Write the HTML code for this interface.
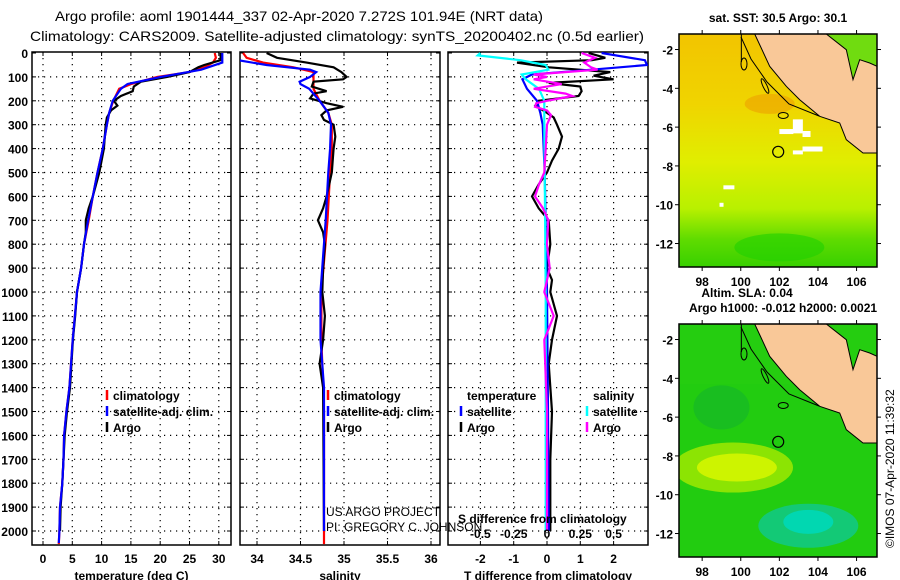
<!DOCTYPE html>
<html><head><meta charset="utf-8"><style>
html,body{margin:0;padding:0;background:#fff;}
svg{display:block;font-family:"Liberation Sans",Arial,sans-serif;}
.b{font-weight:bold;font-size:12px;}
</style></head><body>
<svg id="chart" width="900" height="580" viewBox="0 0 900 580" xmlns="http://www.w3.org/2000/svg">
<rect width="900" height="580" fill="#fff"/>
<text x="55" y="21" font-size="14" textLength="488" lengthAdjust="spacingAndGlyphs">Argo profile: aoml 1901444_337 02-Apr-2020 7.272S 101.94E (NRT data)</text>
<text x="30" y="41" font-size="14" textLength="614" lengthAdjust="spacingAndGlyphs">Climatology: CARS2009. Satellite-adjusted climatology: synTS_20200402.nc (0.5d earlier)</text>
<g id="plots"></g>
<g id="maps"></g>
</svg>
<script>
// ---------- data ----------
const depthTicks=[0,100,200,300,400,500,600,700,800,900,1000,1100,1200,1300,1400,1500,1600,1700,1800,1900,2000];
const tempTicks=[0,5,10,15,20,25,30];
const salTicks=[34,34.5,35,35.5,36];
const tdiffTicks=[-2,-1,0,1,2];
const sdiffTicks=[-0.5,-0.25,0,0.25,0.5];

const tClimDepth=[0,20,40,60,80,100,130,150,200,250,300,400,500,600,700,800,900,1000,1100,1200,1400,1500,1600,1700,1800,1900,2000,2055];
const tClim=[29.3,29.5,29.0,27.5,25.0,19.5,15.0,13.0,12.0,11.3,10.9,10.2,9.3,8.5,7.8,7.0,6.5,5.8,5.45,5.06,4.5,4.0,3.6,3.5,3.3,2.9,2.8,2.7];
const tSatDepth=[0,20,40,70,100,130,150,200,250,300,400,500,600,700,800,900,1000,1100,1200,1400,1500,1600,1700,1800,1900,2000,2050];
const tSat=[30.6,30.6,30.6,27.0,20.1,14.4,13.3,11.9,11.3,10.9,10.2,9.3,8.5,7.7,7.0,6.5,5.8,5.45,5.06,4.5,4.0,3.6,3.5,3.3,2.9,2.8,2.7];
const tArgoDepth=[0,30,50,60,80,100,120,140,160,180,200,220,240,270,300,400,500,600,650,700,750,800,900,1000,1100,1200,1400,1500,1600,1700,1800,1900,2000];
const tArgo=[30.3,30.3,27.5,26.5,25.0,21.2,16.7,15.5,15.3,13.3,12.1,12.7,11.6,10.9,10.7,10.4,9.6,8.5,7.8,7.3,7.3,7.0,6.5,5.8,5.5,5.1,4.6,4.1,3.7,3.5,3.3,3.0,2.9];

const sClimDepth=[0,20,40,60,80,100,150,200,250,300,400,500,700,1000,1200,1500,2000,2055];
const sClim=[33.84,33.88,34.07,34.42,34.65,34.65,34.65,34.72,34.82,34.86,34.86,34.84,34.81,34.74,34.74,34.77,34.77,34.77];
const sSatDepth=[0,30,50,70,80,100,120,130,150,200,250,300,400,500,700,1000,1200,1400,2000];
const sSat=[33.78,33.78,34.11,34.61,34.68,34.61,34.49,34.5,34.6,34.72,34.82,34.85,34.84,34.82,34.79,34.73,34.73,34.77,34.77];
const sArgoDepth=[0,20,40,60,80,100,110,120,140,160,170,190,210,225,240,260,280,300,350,400,500,600,650,700,750,800,900,1000,1100,1200,1300,1400,2000];
const sArgo=[34.11,34.23,34.57,34.88,34.97,35.03,34.99,34.65,34.63,34.80,34.65,34.61,34.80,34.99,34.80,34.74,34.77,34.88,34.90,34.88,34.86,34.80,34.76,34.70,34.76,34.78,34.76,34.75,34.78,34.76,34.72,34.76,34.77];

const dtSatDepth=[0,30,50,70,90,110,150,200,250,300,500,1000,1500,2000];
const dtSat=[1.64,2.94,3.0,1.34,-0.45,-0.74,-0.6,-0.3,-0.2,-0.13,-0.07,0.0,0.03,0.05];
const dtArgoDepth=[0,20,30,40,60,80,95,110,125,140,160,180,200,220,250,270,300,350,400,450,500,550,600,650,700,800,900,950,1000,1100,1200,1300,1500,1700,2000];
const dtArgo=[1.25,1.75,1.35,-0.9,0.06,1.9,1.4,2.0,0.05,1.0,1.04,0.95,-0.25,-0.35,0.0,0.2,0.3,0.45,0.35,0.15,0.0,-0.25,-0.45,-0.25,0.05,0.1,0.0,0.15,0.1,0.3,0.15,0.05,0.15,0.1,0.1];
const dsSatDepth=[0,10,30,50,70,90,110,150,200,300,1000,2000];
const dsSat=[-0.5,-0.52,-0.2,-0.01,0.01,-0.19,-0.16,-0.06,-0.02,-0.02,-0.01,-0.01];
const dsArgoDepth=[0,20,40,60,70,90,100,110,130,150,170,180,200,210,225,240,260,300,400,500,550,600,650,700,800,900,1000,1100,1200,1500,2000];
const dsArgo=[0.26,0.36,0.28,0.33,0.38,-0.1,0.0,-0.1,0.11,-0.1,0.14,0.19,0.0,-0.08,-0.09,0.0,0.03,0.0,-0.01,-0.02,-0.06,-0.09,-0.03,0.01,0.0,0.02,-0.02,0.05,-0.02,0.0,0.0];

// ---------- axes ----------
const NS="http://www.w3.org/2000/svg";
const plots=document.getElementById('plots');
const Y0=53, YK=0.239, TOP=52, BOT=545;
const yOf=d=>Y0+d*YK;
const P1={l:32,r:231}, P2={l:240,r:440}, P3={l:448,r:648};
const xT=v=>43+v*5.86;
const xS=v=>257+(v-34)*87;
const xDT=v=>547+v*33.3;
const xDS=v=>547+v*133.2;
function mk(tag,attrs,parent){const e=document.createElementNS(NS,tag);for(const k in attrs)e.setAttribute(k,attrs[k]);(parent||plots).appendChild(e);return e;}

depthTicks.forEach(d=>{
  const t=mk('text',{x:28,y:yOf(d)+5,'text-anchor':'end',class:'b'});
  
  
  t.textContent=d;
});

function panel(P,name,ticks,xf,labels,xlabel){
  const g=mk('g',{});
  
  
  const cp='clip-'+name;
  const c=mk('clipPath',{id:cp},g);mk('rect',{x:P.l,y:TOP,width:P.r-P.l,height:BOT-TOP},c);
  depthTicks.forEach(d=>{if(d>0){const l=mk('line',{x1:P.l,x2:P.r,y1:yOf(d),y2:yOf(d),stroke:'#000','stroke-width':1.2,'stroke-dasharray':'1.2 4.8'},g);
    }
    mk('line',{x1:P.l,x2:P.l+4,y1:yOf(d),y2:yOf(d),stroke:'#000'},g);mk('line',{x1:P.r,x2:P.r-4,y1:yOf(d),y2:yOf(d),stroke:'#000'},g);});
  ticks.forEach((v,i)=>{const x=xf(v);
    const l=mk('line',{x1:x,x2:x,y1:TOP,y2:BOT,stroke:'#000','stroke-width':1.2,'stroke-dasharray':'1.2 4.8'},g);
    
    mk('line',{x1:x,x2:x,y1:TOP,y2:TOP+4,stroke:'#000'},g);mk('line',{x1:x,x2:x,y1:BOT,y2:BOT-4,stroke:'#000'},g);
    const t=mk('text',{x:x,y:563,'text-anchor':'middle',class:'b'},g);
    
    t.textContent=labels[i];});
  const xl=mk('text',{x:(P.l+P.r)/2,y:580,'text-anchor':'middle',class:'b'},g);
  
  xl.textContent=xlabel;
  const fr=mk('rect',{x:P.l,y:TOP,width:P.r-P.l,height:BOT-TOP,fill:'none',stroke:'#000','stroke-width':1.5},g);
  
  return {g,cp};
}
function series(p,depths,vals,xf,color,name){
  const pts=depths.map((d,i)=>xf(vals[i]).toFixed(1)+','+yOf(d).toFixed(1)).join(' ');
  const pl=mk('polyline',{points:pts,fill:'none',stroke:color,'stroke-width':2.2,'clip-path':'url(#'+p.cp+')'},p.g);
  
  
}
function legend(p,x,y,color,label,name){
  const m=mk('line',{x1:x,x2:x,y1:y-10,y2:y,stroke:color,'stroke-width':2.5},p.g);
  
  const t=mk('text',{x:x+6,y:y,class:'b'},p.g);
  
  t.textContent=label;
}
const p1=panel(P1,'temperature-panel',tempTicks,xT,tempTicks,'temperature (deg C)');
series(p1,tClimDepth,tClim,xT,'#f00','temp-climatology-line');
series(p1,tArgoDepth,tArgo,xT,'#000','temp-argo-line');
series(p1,tSatDepth,tSat,xT,'#00f','temp-satellite-line');
legend(p1,107,400,'#f00','climatology','legend-climatology');
legend(p1,107,416,'#00f','satellite-adj. clim.','legend-satellite');
legend(p1,107,432,'#000','Argo','legend-argo');

const p2=panel(P2,'salinity-panel',salTicks,xS,salTicks,'salinity');
series(p2,sClimDepth,sClim,xS,'#f00','sal-climatology-line');
series(p2,sArgoDepth,sArgo,xS,'#000','sal-argo-line');
series(p2,sSatDepth,sSat,xS,'#00f','sal-satellite-line');
legend(p2,328,400,'#f00','climatology','legend-climatology');
legend(p2,328,416,'#00f','satellite-adj. clim.','legend-satellite');
legend(p2,328,432,'#000','Argo','legend-argo');

const p3=panel(P3,'difference-panel',tdiffTicks,xDT,tdiffTicks,'T difference from climatology');
series(p3,dtArgoDepth,dtArgo,xDT,'#000','tdiff-argo-line');
series(p3,dtSatDepth,dtSat,xDT,'#00f','tdiff-satellite-line');
series(p3,dsSatDepth,dsSat,xDS,'#0ff','sdiff-satellite-line');
series(p3,dsArgoDepth,dsArgo,xDS,'#f0f','sdiff-argo-line');
[['temperature',467],['salinity',593]].forEach(a=>{const t=mk('text',{x:a[1],y:400,class:'b'},p3.g);
  t.textContent=a[0];});
legend(p3,461,416,'#00f','satellite','legend-tdiff-satellite');
legend(p3,461,432,'#000','Argo','legend-tdiff-argo');
legend(p3,587,416,'#0ff','satellite','legend-sdiff-satellite');
legend(p3,587,432,'#f0f','Argo','legend-sdiff-argo');
const st=mk('text',{x:458,y:523,class:'b'},p3.g);

st.textContent='S difference from climatology';
sdiffTicks.forEach(v=>{const t=mk('text',{x:xDS(v),y:538,'text-anchor':'middle',class:'b'},p3.g);
  t.textContent=v;});
const c1=mk('text',{x:326,y:516,'font-size':'12'});
c1.textContent='US ARGO PROJECT';
const c2=mk('text',{x:326,y:531,'font-size':'12'});
c2.textContent='PI: GREGORY C. JOHNSON';

// ---------- maps ----------
const maps=document.getElementById('maps');
const land=[[285,103],[330,200],[380,260],[420,300],[480,350],[540,370],[560,420],[610,460],[652,460],[652,200],[630,190],[600,180],[580,240],[560,150],[500,103]];
const lonTicks=[98,100,102,104,106];
const latTicks=[-2,-4,-6,-8,-10,-12];
function map(top,name,kind){
  const g=mk('g',{},maps);
  
  const L=679,R=877,T=top,B=top+233;
  const lx=lon=>L+(lon-96.8)*19.3, ly=lat=>T+(-1.2-lat)*19.4;
  const id='cl'+name;
  const defs=mk('defs',{},g);
  const c=mk('clipPath',{id:id},defs);mk('rect',{x:L,y:T,width:R-L,height:B-T},c);
  const inner=mk('g',{'clip-path':'url(#'+id+')'},g);
  if(kind==='sst'){
    const lg=mk('linearGradient',{id:'sstg',x1:0,y1:0,x2:0,y2:1},defs);
    [['0','#f2c400'],['0.3','#f0d400'],['0.55','#e0ee00'],['0.75','#b8f000'],['0.88','#60dc00'],['1','#38d000']].forEach(s=>mk('stop',{offset:s[0],'stop-color':s[1]},lg));
    mk('rect',{x:L,y:T,width:R-L,height:B-T,fill:'url(#sstg)'},inner);
    mk('ellipse',{cx:lx(101.5),cy:ly(-4.8),rx:25,ry:10,fill:'#eca000',opacity:0.6},inner);
    mk('ellipse',{cx:lx(102),cy:ly(-12.2),rx:45,ry:14,fill:'#20d000',opacity:0.6},inner);
    mk('rect',{x:826,y:T,width:R-826,height:50,fill:'#70dc10'},inner);
    [[102.7,-5.6,10,14],[102,-6.1,14,5],[103.2,-6.2,8,6],[103.2,-7.0,20,5],[102.7,-7.2,10,4],[99.1,-9.0,11,4],[98.9,-9.9,4,4]].forEach(r=>mk('rect',{x:lx(r[0]),y:ly(r[1]),width:r[2],height:r[3],fill:'#fff'},inner));
  } else {
    mk('rect',{x:L,y:T,width:R-L,height:B-T,fill:'#22cc10'},inner);
    mk('ellipse',{cx:lx(99),cy:ly(-5.5),rx:28,ry:22,fill:'#10b030',opacity:0.5},inner);
    mk('ellipse',{cx:lx(99.6),cy:ly(-8.6),rx:60,ry:25,fill:'#a8ea00',opacity:0.8},inner);
    mk('ellipse',{cx:lx(99.8),cy:ly(-8.6),rx:40,ry:14,fill:'#d4f500',opacity:0.9},inner);
    mk('ellipse',{cx:lx(103.5),cy:ly(-11.6),rx:50,ry:22,fill:'#10c890',opacity:0.8},inner);
    mk('ellipse',{cx:lx(103.5),cy:ly(-11.4),rx:25,ry:12,fill:'#00d8b8',opacity:0.9},inner);
    mk('rect',{x:L,y:T,width:R-L,height:60,fill:'#30d010',opacity:0.3},inner);
  }
  const pts=land.map(p=>(L+(p[0]-58)/3).toFixed(1)+','+(T+(p[1]-103)/3).toFixed(1)).join(' ');
  const lp=mk('polygon',{points:pts,fill:'#f9c898',stroke:'#000','stroke-width':1},inner);
  
  mk('line',{x1:L+(245-58)/3,x2:L+(245-58)/3,y1:T,y2:T+28,stroke:'#000'},inner);
  mk('polyline',{points:`${L+62},${T+3} ${L+72},${T+25} ${L+88},${T+48} ${L+110},${T+70} ${L+140},${T+82}`,fill:'none',stroke:'#000','stroke-width':1},inner);
  mk('ellipse',{cx:L+65,cy:T+30,rx:3,ry:6,fill:'none',stroke:'#000'},inner);
  mk('ellipse',{cx:L+86,cy:T+52,rx:2,ry:8,fill:'none',stroke:'#000',transform:`rotate(-25 ${L+86} ${T+52})`},inner);
  mk('ellipse',{cx:lx(102.2),cy:ly(-5.4),rx:5,ry:3,fill:'none',stroke:'#000'},inner);
  const pos=mk('circle',{cx:lx(101.94),cy:ly(-7.272),r:5.5,fill:'none',stroke:'#000','stroke-width':1.2},inner);
  
  const fr=mk('rect',{x:L,y:T,width:R-L,height:B-T,fill:'none',stroke:'#000','stroke-width':1.5},g);
  
  latTicks.forEach(v=>{const y=ly(v);mk('line',{x1:R,x2:R+4,y1:y,y2:y,stroke:'#000'},g);mk('line',{x1:L-4,x2:L,y1:y,y2:y,stroke:'#000'},g);
    const t=mk('text',{x:673,y:y+5,'text-anchor':'end',class:'b'},g);
    t.textContent=v;});
  lonTicks.forEach(v=>{const x=lx(v);mk('line',{x1:x,x2:x,y1:B,y2:B+4,stroke:'#000'},g);mk('line',{x1:x,x2:x,y1:T-4,y2:T,stroke:'#000'},g);
    const t=mk('text',{x:x,y:B+19,'text-anchor':'middle',class:'b'},g);
    t.textContent=v;});
}
map(34,'sst-map','sst');
map(324,'sla-map','sla');
[['sat. SST: 30.5 Argo: 30.1',778,22,'sst-map-title'],['Altim. SLA: 0.04',747,297,'sla-label'],['Argo h1000: -0.012 h2000: 0.0021',783,312,'sla-map-title']].forEach(a=>{
  const t=mk('text',{x:a[1],y:a[2],'text-anchor':'middle',class:'b'},maps);
  t.textContent=a[0];});
const cr=mk('text',{x:0,y:0,'font-size':'12',transform:'translate(894,548) rotate(-90)'},maps);

cr.textContent='©IMOS 07-Apr-2020 11:39:32';
</script>
</body></html>
